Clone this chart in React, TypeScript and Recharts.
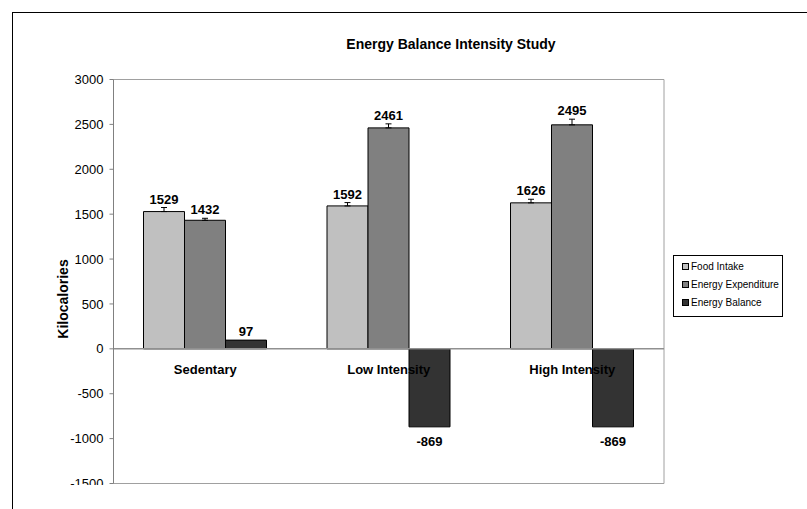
import React from 'react';
import {
  BarChart,
  Bar,
  XAxis,
  YAxis,
  ErrorBar,
  LabelList,
  ReferenceLine,
  ReferenceArea,
  ReferenceDot,
} from 'recharts';

const categories = ['Sedentary', 'Low Intensity', 'High Intensity'];
const foodIntake = [1529, 1592, 1626];
const foodIntakeErr = [45, 37, 40];
const expenditure = [1432, 2461, 2495];
const expenditureErr = [22, 45, 63];
const balance = [97, -869, -869];
const yTicks = [-1500, -1000, -500, 0, 500, 1000, 1500, 2000, 2500, 3000];

const series = [
  { key: 'food', label: 'Food Intake', color: '#c0c0c0', values: foodIntake, errs: foodIntakeErr },
  { key: 'exp', label: 'Energy Expenditure', color: '#808080', values: expenditure, errs: expenditureErr },
  { key: 'bal', label: 'Energy Balance', color: '#333333', values: balance, errs: null as number[] | null },
];

const data = categories.map((name, i) => {
  const row: Record<string, any> = { name };
  series.forEach((s) => {
    row[s.key] = s.values[i];
    if (s.errs) row[s.key + 'Err'] = [0, s.errs[i]];
  });
  return row;
});

const FONT = '"Liberation Sans", Arial, sans-serif';

function makeValueLabel(errs: number[] | null) {
  return function ValueLabel(props: any) {
    const vb = props.viewBox ?? props;
    const x = Number(vb.x ?? props.x);
    const y = Number(vb.y ?? props.y);
    const width = Number(vb.width ?? props.width);
    const height = Number(vb.height ?? props.height);
    const value = Number(props.value);
    const index = props.index ?? 0;
    const top = Math.min(y, y + height);
    const bottom = Math.max(y, y + height);
    const cx = x + width / 2;
    const style = { fontFamily: FONT, fontSize: 13, fontWeight: 700, fill: '#000' };
    if (value < 0) {
      return (
        <text x={cx} y={bottom + 19} textAnchor="middle" style={style}>
          {value}
        </text>
      );
    }
    const pxPerUnit = value ? Math.abs(height) / Math.abs(value) : 0;
    const err = errs ? errs[index] : 0;
    return (
      <text x={cx} y={top - err * pxPerUnit - 4} textAnchor="middle" style={style}>
        {value}
      </text>
    );
  };
}

function CategoryLabel(props: any) {
  const vb = props.viewBox || {};
  return (
    <text
      x={vb.x + (vb.width || 0) / 2}
      y={vb.y + 25}
      textAnchor="middle"
      style={{ fontFamily: FONT, fontSize: 13, fontWeight: 700, fill: '#000' }}
    >
      {props.value}
    </text>
  );
}

function LegendBox() {
  return (
    <div
      style={{
        position: 'absolute',
        left: 673,
        top: 255,
        width: 108,
        height: 60,
        border: '1px solid #000',
        background: '#fff',
        fontFamily: FONT,
        fontSize: 10,
        color: '#000',
      }}
    >
      {series.map((s, i) => (
        <div
          key={s.key}
          style={{ position: 'absolute', left: 8, top: 4 + i * 18, height: 12, display: 'flex', alignItems: 'center', whiteSpace: 'nowrap' }}
        >
          <span
            style={{ display: 'inline-block', width: 5, height: 5, background: s.color, border: '1px solid #000', marginRight: 2 }}
          />
          {s.label}
        </div>
      ))}
    </div>
  );
}

export default function App() {
  return (
    <div style={{ position: 'relative', width: 807, height: 509, background: '#fff', overflow: 'hidden' }}>
      <style>{'body{margin:0}'}</style>
      <div
        style={{
          position: 'absolute',
          left: 12,
          top: 12,
          width: 900,
          height: 600,
          borderLeft: '1px solid #000',
          borderTop: '1px solid #000',
        }}
      />
      <div
        style={{
          position: 'absolute',
          left: 0,
          top: 36,
          width: 902,
          textAlign: 'center',
          fontFamily: FONT,
          fontSize: 14,
          fontWeight: 700,
        }}
      >
        Energy Balance Intensity Study
      </div>
      <div
        style={{
          position: 'absolute',
          left: 63,
          top: 299,
          transform: 'translate(-50%, -50%) rotate(-90deg)',
          fontFamily: FONT,
          fontSize: 14,
          fontWeight: 700,
          whiteSpace: 'nowrap',
        }}
      >
        Kilocalories
      </div>
      <div style={{ position: 'absolute', left: 0, top: 0, width: 807, height: 485, overflow: 'hidden' }}>
        <BarChart
          width={807}
          height={520}
          data={data}
          margin={{ top: 79.5, right: 143, left: 53.5, bottom: 36.5 }}
          barCategoryGap="16.5%"
          barGap={0}
        >
          <XAxis dataKey="name" hide />
          <YAxis
            type="number"
            domain={[-1500, 3000]}
            ticks={yTicks}
            interval={0}
            allowDataOverflow
            width={60}
            tickSize={4}
            tickMargin={6}
            stroke="#808080"
            tick={{ fill: '#000', fontSize: 13, fontFamily: FONT }}
          />
          <ReferenceArea y1={-1500} y2={3000} fill="none" stroke="#a0a0a0" strokeWidth={1} ifOverflow="visible" />
          <ReferenceLine y={0} stroke="#909090" strokeWidth={1.5} />
          {series.map((s) => (
            <Bar
              key={s.key}
              dataKey={s.key}
              name={s.label}
              fill={s.color}
              stroke="#000"
              strokeWidth={1}
              barSize={41}
              isAnimationActive={false}
            >
              {s.errs && (
                <ErrorBar dataKey={s.key + 'Err'} direction="y" width={3} stroke="#000" strokeWidth={1} />
              )}
              <LabelList dataKey={s.key} content={makeValueLabel(s.errs)} />
            </Bar>
          ))}
          {categories.map((c) => (
            <ReferenceDot
              key={c}
              x={c}
              y={0}
              r={0}
              fill="none"
              stroke="none"
              label={<CategoryLabel value={c} />}
            />
          ))}
        </BarChart>
      </div>
      <LegendBox />
    </div>
  );
}
